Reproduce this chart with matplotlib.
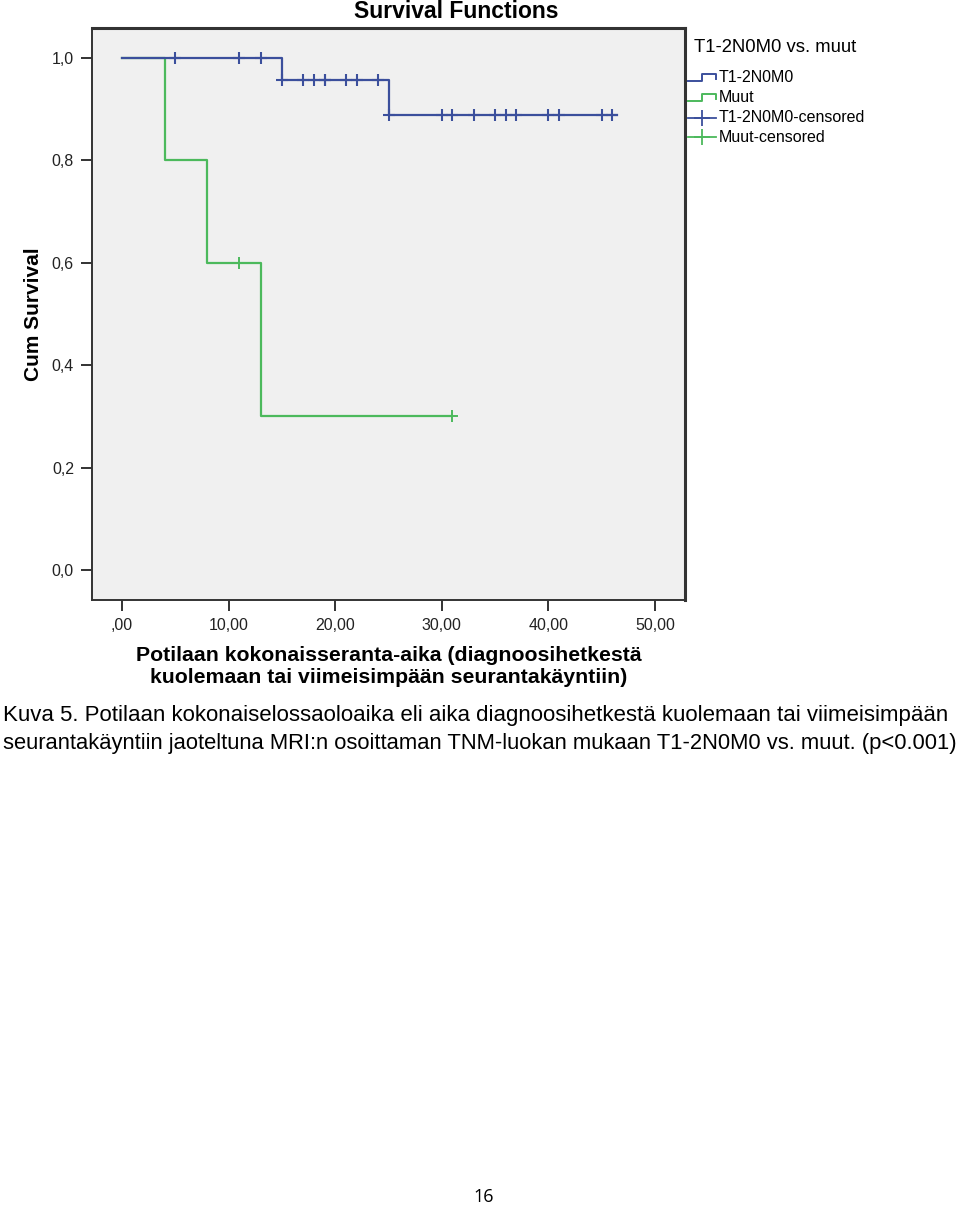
import matplotlib
matplotlib.use("Agg")
import matplotlib.pyplot as plt
from matplotlib.lines import Line2D
import numpy as np

# ---- data ----
t12_event_times = [0, 15, 25]
t12_surv = [1.0, 0.957, 0.888]
t12_end = 46.4
t12_censor_times = [5, 11, 13, 15, 17, 18, 19, 19, 21, 22, 24, 25, 30, 31, 33,
                    35, 36, 37, 40, 41, 45, 46]

muut_event_times = [0, 4, 8, 13]
muut_surv = [1.0, 0.8, 0.6, 0.3]
muut_end = 31
muut_censor_times = [11, 31]

xticks = [0, 10, 20, 30, 40, 50]
xtick_labels = [",00", "10,00", "20,00", "30,00", "40,00", "50,00"]
yticks = [0.0, 0.2, 0.4, 0.6, 0.8, 1.0]
ytick_labels = ["0,0", "0,2", "0,4", "0,6", "0,8", "1,0"]

legend_title = "T1-2N0M0 vs. muut"
legend_labels = ["T1-2N0M0", "Muut", "T1-2N0M0-censored", "Muut-censored"]

caption_1 = "Kuva 5. Potilaan kokonaiselossaoloaika eli aika diagnoosihetkestä kuolemaan tai viimeisimpään"
caption_2 = "seurantakäyntiin jaoteltuna MRI:n osoittaman TNM-luokan mukaan T1-2N0M0 vs. muut. (p<0.001)"
page_no = "16"

BLUE = "#3b4f9c"
BLUE_C = "#3b4f9c"
GREEN = "#4cb95c"
GREEN_C = "#4cb95c"

plt.rcParams["font.family"] = ["Liberation Sans", "DejaVu Sans"]

W, H = 960, 1206
fig = plt.figure(figsize=(W / 100, H / 100), dpi=100)


def fx(x):
    return x / W


def fy(y):
    return 1 - y / H


ax = fig.add_axes([fx(92), fy(600), fx(685) - fx(92), fy(28) - fy(600)])
ax.set_facecolor("#f0f0f0")
ax.set_xlim(-2.8, 52.8)
ax.set_ylim(-0.0586, 1.0586)


def step_xy(times, surv, end):
    xs = list(times) + [end]
    ys = list(surv) + [surv[-1]]
    return xs, ys


def surv_at(times, surv, t):
    idx = np.searchsorted(np.array(times), t, side="right") - 1
    return surv[max(idx, 0)]


# main curves
xs, ys = step_xy(muut_event_times, muut_surv, muut_end)
ax.step(xs, ys, where="post", color=GREEN, lw=1.6, zorder=3)
xs, ys = step_xy(t12_event_times, t12_surv, t12_end)
ax.step(xs, ys, where="post", color=BLUE, lw=1.6, zorder=4)

# censor marks
cy = [surv_at(t12_event_times, t12_surv, t) for t in t12_censor_times]
ax.plot(t12_censor_times, cy, ls="none", marker="+", ms=9, mew=1.5, color=BLUE_C, zorder=5)
cy = [surv_at(muut_event_times, muut_surv, t) for t in muut_censor_times]
ax.plot(muut_censor_times, cy, ls="none", marker="+", ms=9, mew=1.4, color=GREEN_C, zorder=5)

ax.set_xticks(xticks)
ax.set_xticklabels(xtick_labels)
ax.set_yticks(yticks)
ax.set_yticklabels(ytick_labels)
ax.tick_params(axis="both", direction="out", length=8, width=1.3, colors="#222222",
               labelsize=11.5, labelcolor="#222222", pad=5)
for s in ax.spines.values():
    s.set_color("#333333")
    s.set_linewidth(1.4)
ax.spines["right"].set_linewidth(2.2)
ax.spines["top"].set_linewidth(2.2)

ax.set_ylabel("Cum Survival", fontsize=15, fontweight="bold", labelpad=6)
ax.set_xlabel("Potilaan kokonaisseranta-aika (diagnoosihetkestä\nkuolemaan tai viimeisimpään seurantakäyntiin)",
              fontsize=15.3, fontweight="bold", labelpad=9, linespacing=1.2)

fig.text(fx(456), fy(12), "Survival Functions", ha="center", va="center",
         fontsize=16.5, fontweight="bold")

# legend (manual, in figure pixel coords)
fig.text(fx(694), fy(48), legend_title, ha="left", va="center", fontsize=13.3)
entry_y = [78, 98, 118, 137]
colors = [BLUE, GREEN, BLUE, GREEN]
for i, (lab, yy, col) in enumerate(zip(legend_labels, entry_y, colors)):
    if i < 2:
        gx = [688, 702, 702, 716, 716]
        gy = [yy + 3, yy + 3, yy - 4, yy - 4, yy + 1]
        fig.add_artist(Line2D([fx(v) for v in gx], [fy(v) for v in gy], color=col, lw=1.4))
    else:
        fig.add_artist(Line2D([fx(688), fx(716)], [fy(yy), fy(yy)], color=col, lw=1.3))
        fig.add_artist(Line2D([fx(702)], [fy(yy)], marker="+", ms=11, mew=1.3, color=col, ls="none"))
    fig.text(fx(719), fy(yy), lab, ha="left", va="center", fontsize=11.5)

fig.text(fx(3), fy(716), caption_1, ha="left", va="center", fontsize=16.0)
fig.text(fx(3), fy(744), caption_2, ha="left", va="center", fontsize=15.8)
fig.text(fx(484), fy(1197), page_no, ha="center", va="center", fontsize=13,
         family=["Open Sans", "DejaVu Sans"])

fig.savefig("out.png", dpi=100, facecolor="white")
